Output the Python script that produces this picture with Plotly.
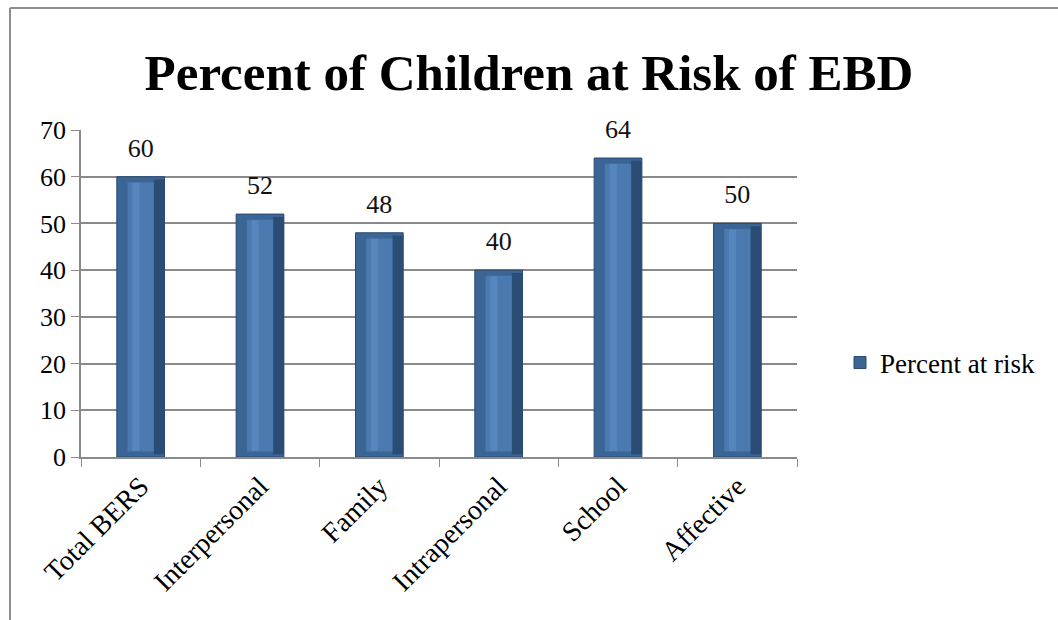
import plotly.graph_objects as go

categories = ["Total BERS", "Interpersonal", "Family", "Intrapersonal", "School", "Affective"]
values = [60, 52, 48, 40, 64, 50]
series_name = "Percent at risk"
y_ticks = [0, 10, 20, 30, 40, 50, 60, 70]

FONT = "Liberation Serif"
L, R, T, B = 81, 261, 130, 163
W, H = 1058, 620
pw = W - L - R
ph = H - T - B

fig = go.Figure()
# outer dark bevel body
fig.add_trace(go.Bar(
    x=categories, y=values, name=series_name, width=0.4,
    marker=dict(color="#3b6595", line=dict(color="#2a4a70", width=1)),
    showlegend=True,
))
# right dark edge
fig.add_trace(go.Bar(
    x=categories, y=[v - 1.2 for v in values], base=0.6, width=0.09, offset=0.11,
    marker=dict(color="#2b4c74", line=dict(width=0)),
    showlegend=False, hoverinfo="skip",
))
# inner lighter face
fig.add_trace(go.Bar(
    x=categories, y=[v - 2.4 for v in values], base=1.2, width=0.22,
    marker=dict(color="#4b7ab0", line=dict(width=0)),
    showlegend=False, hoverinfo="skip",
))
# highlight stripe
fig.add_trace(go.Bar(
    x=categories, y=[v - 2.6 for v in values], base=1.3, width=0.06, offset=-0.07,
    marker=dict(color="#5686bd", line=dict(width=0)),
    showlegend=False, hoverinfo="skip",
))
# data labels
fig.add_trace(go.Scatter(
    x=categories, y=values, mode="markers+text", text=[str(v) for v in values],
    textposition="top center", cliponaxis=False,
    marker=dict(size=20, opacity=0),
    textfont=dict(family=FONT, size=26, color="#111111"),
    showlegend=False, hoverinfo="skip",
))

def px_x(p):
    return (p - L) / pw

def px_y(p):
    return (H - B - p) / ph

fig.add_shape(type="line", xref="paper", yref="paper",
              x0=px_x(10), x1=px_x(1058), y0=px_y(8), y1=px_y(8),
              line=dict(color="#8e8e8e", width=2))
fig.add_shape(type="line", xref="paper", yref="paper",
              x0=px_x(10), x1=px_x(10), y0=px_y(8), y1=px_y(620),
              line=dict(color="#8e8e8e", width=2))

fig.update_layout(
    width=W, height=H,
    margin=dict(l=L, r=R, t=T, b=B),
    paper_bgcolor="white", plot_bgcolor="white",
    barmode="overlay",
    title=dict(text="<b>Percent of Children at Risk of EBD</b>",
               x=0.5, xref="container", xanchor="center",
               y=1 - 72 / H, yref="container", yanchor="middle",
               font=dict(family=FONT, size=51, color="black")),
    font=dict(family=FONT, size=26, color="black"),
    legend=dict(x=px_x(840), y=px_y(363), xref="paper", yref="paper",
                xanchor="left", yanchor="middle",
                font=dict(family=FONT, size=27, color="black"),
                itemwidth=30, bgcolor="rgba(0,0,0,0)"),
    showlegend=True,
)
fig.update_yaxes(range=[0, 70], tickvals=y_ticks, showgrid=True,
                 gridcolor="#8a8a8a", gridwidth=1.5,
                 showline=True, linecolor="#8a8a8a", linewidth=1.5,
                 ticks="outside", ticklen=8, tickcolor="#8a8a8a",
                 tickfont=dict(family=FONT, size=26), zeroline=False)
fig.update_xaxes(showline=True, linecolor="#8a8a8a", linewidth=1.5,
                 ticks="outside", ticklen=8, tickcolor="#8a8a8a",
                 tickson="boundaries", tickangle=-45,
                 tickfont=dict(family=FONT, size=28))

fig.write_html("out.html")
